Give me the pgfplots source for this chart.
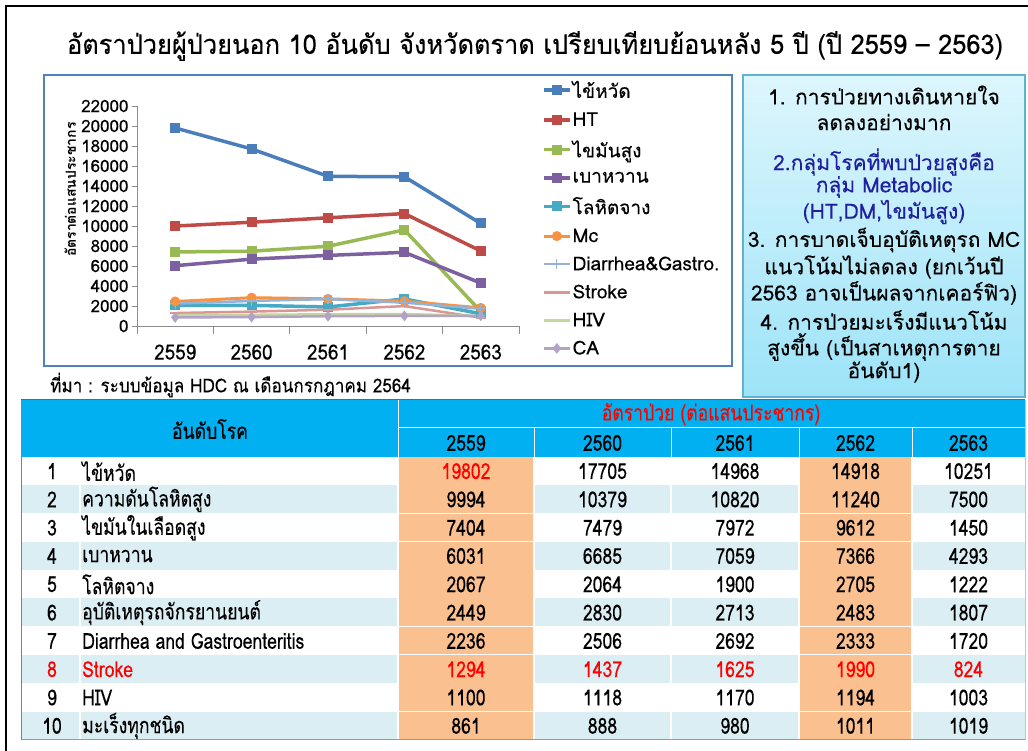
\documentclass[border=0pt]{standalone}
\usepackage{pgfplots}
\pgfplotsset{compat=1.18}
\usepackage{fontspec}
\setmainfont[Script=Thai, FakeBold=0.2, BoldFeatures={FakeBold=0}]{Loma}
\newfontfamily\tabfont[Script=Thai, FakeBold=0.2, FakeStretch=0.8]{Loma}
\newfontfamily\srcfont[Script=Thai, FakeBold=0.2, FakeStretch=0.9]{Loma}
\newcommand\fs[1]{\fontsize{#1}{#1}\selectfont}
\definecolor{cBlue}{HTML}{4A7EBB}
\definecolor{cRed}{HTML}{BE4B48}
\definecolor{cGreen}{HTML}{98B954}
\definecolor{cPurple}{HTML}{7D60A0}
\definecolor{cTeal}{HTML}{46AAC5}
\definecolor{cOrange}{HTML}{F69240}
\definecolor{cLBlue}{HTML}{95B3D7}
\definecolor{cPink}{HTML}{DA9694}
\definecolor{cLGreen}{HTML}{C3D69B}
\definecolor{cLav}{HTML}{B3A2C7}
\definecolor{hdr}{HTML}{00B0F0}
\definecolor{peach}{HTML}{FAC090}
\definecolor{rowb}{HTML}{DAEEF3}
\definecolor{boxblue}{HTML}{4F81BD}
\definecolor{txtblue}{HTML}{1F1F9F}
\definecolor{tbBorder}{HTML}{5FB3D0}
\definecolor{tbTop}{HTML}{DDF6FD}
\definecolor{tbBot}{HTML}{9DE3F8}
\begin{document}
\begin{tikzpicture}[x=1pt,y=1pt]
\useasboundingbox (0,0) rectangle (1028,751);
\fill[white] (0,0) rectangle (1028,751);
% slide frame
\draw[line width=2.5pt] (6,-2) -- (6,745) -- (1030,745);
% title
\node at (535,705) {\fs{27}\resizebox{936pt}{\height}{อัตราป่วยผู้ป่วยนอก 10 อันดับ จังหวัดตราด เปรียบเทียบย้อนหลัง 5 ปี (ปี 2559 – 2563)}};
% chart box
\draw[boxblue, line width=2pt, fill=white] (44,385) rectangle (732,676);
\begin{axis}[
  at={(137pt,425pt)}, anchor=south west,
  scale only axis, width=382pt, height=220pt,
  xmin=-0.5, xmax=4.5, ymin=0, ymax=22000,
  axis x line=bottom, axis y line=left,
  axis line style={-, black!45, line width=0.8pt},
  xtick={0,1,2,3,4}, xticklabels={2559,2560,2561,2562,2563},
  minor xtick={-0.5,0.5,1.5,2.5,3.5,4.5},
  ytick={0,2000,...,22000},
  scaled y ticks=false,
  tick align=outside,
  major tick length=5pt, minor tick length=8pt,
  major x tick style={draw=none},
  tick style={black!45, line width=0.8pt},
  yticklabel style={font=\fs{17}},
  xticklabel style={font=\srcfont\fs{21}, yshift=-10pt},
  /pgf/number format/1000 sep={},
  /pgf/number format/assume math mode=true,
  ylabel={อัตราต่อแสนประชากร},
  every axis y label/.style={at={(axis description cs:-0.175,0.62)}, rotate=90, anchor=center, font=\bfseries\fs{14}},
  legend style={at={(axis description cs:1.06,1.12)}, anchor=north west, draw=none, fill=none, font=\fs{19}, row sep=11pt, inner sep=0pt, nodes={inner sep=1pt}},
  legend cell align=left,
  legend image code/.code={\draw[mark repeat=2,mark phase=2,#1] plot coordinates {(0pt,0pt) (13pt,0pt) (26pt,0pt)};},
  clip=false,
]
\addplot[cBlue, line width=3.5pt, mark=square*, mark size=4.5pt, mark options={solid, line width=1pt}] coordinates {(0,19802)(1,17705)(2,14968)(3,14918)(4,10251)};
\addplot[cRed, line width=3.5pt, mark=square*, mark size=4.5pt, mark options={solid, line width=1pt}] coordinates {(0,9994)(1,10379)(2,10820)(3,11240)(4,7500)};
\addplot[cGreen, line width=3.5pt, mark=square*, mark size=4.5pt, mark options={solid, line width=1pt}] coordinates {(0,7404)(1,7479)(2,7972)(3,9612)(4,1450)};
\addplot[cPurple, line width=3.5pt, mark=square*, mark size=4.5pt, mark options={solid, line width=1pt}] coordinates {(0,6031)(1,6685)(2,7059)(3,7366)(4,4293)};
\addplot[cTeal, line width=3.5pt, mark=square*, mark size=4.5pt, mark options={solid, line width=1pt}] coordinates {(0,2067)(1,2064)(2,1900)(3,2705)(4,1222)};
\addplot[cOrange, line width=3pt, mark=*, mark size=4.5pt, mark options={solid, line width=1pt}] coordinates {(0,2449)(1,2830)(2,2713)(3,2483)(4,1807)};
\addplot[cLBlue, line width=2.5pt, mark=+, mark size=5pt, mark options={solid, line width=1.2pt}] coordinates {(0,2236)(1,2506)(2,2692)(3,2333)(4,1720)};
\addplot[cPink, line width=2.5pt, mark=-, mark size=5pt, mark options={solid, line width=2pt}] coordinates {(0,1294)(1,1437)(2,1625)(3,1990)(4,824)};
\addplot[cLGreen, line width=2.5pt, no marks] coordinates {(0,1100)(1,1118)(2,1170)(3,1194)(4,1003)};
\addplot[cLav, line width=2.5pt, mark=diamond*, mark size=5pt, mark options={solid, line width=0.5pt}] coordinates {(0,861)(1,888)(2,980)(3,1011)(4,1019)};
\legend{ไข้หวัด,HT,ไขมันสูง,เบาหวาน,โลหิตจาง,Mc,Diarrhea\&Gastro.,Stroke,HIV,CA}
\end{axis}
% text box
\draw[tbBorder, line width=1.5pt, top color=tbTop, bottom color=tbBot] (743,354) rectangle (1025,676);
\begin{scope}[every node/.style={font=\fs{21}, inner sep=0pt}]
\node at (884,656) {1. การป่วยทางเดินหายใจ};
\node at (884,629) {ลดลงอย่างมาก};
\node[txtblue] at (884,589) {2.กลุ่มโรคที่พบป่วยสูงคือ};
\node[txtblue] at (884,564) {กลุ่ม Metabolic};
\node[txtblue] at (884,539) {(HT,DM,ไขมันสูง)};
\node at (884,511) {3. การบาดเจ็บอุบัติเหตุรถ MC};
\node at (884,484) {แนวโน้มไม่ลดลง (ยกเว้นปี};
\node at (884,458) {2563 อาจเป็นผลจากเคอร์ฟิว)};
\node at (884,431) {4. การป่วยมะเร็งมีแนวโน้ม};
\node at (884,404) {สูงขึ้น (เป็นสาเหตุการตาย};
\node at (884,379) {อันดับ1)};
\end{scope}
% source
\node[anchor=west, font=\srcfont\fs{19}, inner sep=0pt] at (50,366) {ที่มา : ระบบข้อมูล HDC ณ เดือนกรกฎาคม 2564};
% table
\fill[hdr] (21,294) rectangle (1025,351);
\foreach \i in {1,...,10}{
  \pgfmathsetmacro\yt{294-(\i-1)*28.3}
  \pgfmathsetmacro\yb{294-\i*28.3}
  \ifodd\i \fill[white] (21,\yb) rectangle (1025,\yt); \else \fill[rowb] (21,\yb) rectangle (1025,\yt); \fi
  \fill[peach] (398,\yb) rectangle (534,\yt);
  \fill[peach] (799,\yb) rectangle (912,\yt);
  \draw[white, line width=1.2pt] (21,\yb) -- (1025,\yb);
}
\foreach \x in {80,398,534,671,799,912}{\draw[white, line width=1.2pt] (\x,11) -- (\x,294);}
\foreach \x in {398,534,671,799,912}{\draw[white, line width=1pt] (\x,294) -- (\x,323);}
\draw[white, line width=1pt] (398,351) -- (398,294);
\draw[white, line width=1pt] (398,323) -- (1025,323);
\draw[black!60, line width=1pt] (21,351) -- (1025,351);
\draw[black!40, line width=1pt] (21,11) -- (1025,11);
\draw[black!50, line width=0.8pt] (21,11) -- (21,294);
\draw[tbBorder!60, line width=1pt] (1025,11) -- (1025,351);
\begin{scope}[every node/.style={font=\tabfont\fs{22}, inner sep=0pt}]
\node at (210,322) {อันดับโรค};
\node[red] at (711,337) {อัตราป่วย (ต่อแสนประชากร)};
\foreach \yr/\cx in {2559/466,2560/602.5,2561/735,2562/855.5,2563/968.5}{\node at (\cx,308) {\yr};}
\foreach \n/\name/\a/\b/\c/\d/\e in {
 1/ไข้หวัด/19802/17705/14968/14918/10251,
 2/ความดันโลหิตสูง/9994/10379/10820/11240/7500,
 3/ไขมันในเลือดสูง/7404/7479/7972/9612/1450,
 4/เบาหวาน/6031/6685/7059/7366/4293,
 5/โลหิตจาง/2067/2064/1900/2705/1222,
 6/อุบัติเหตุรถจักรยานยนต์/2449/2830/2713/2483/1807,
 7/Diarrhea and Gastroenteritis/2236/2506/2692/2333/1720,
 8/Stroke/1294/1437/1625/1990/824,
 9/HIV/1100/1118/1170/1194/1003,
 10/มะเร็งทุกชนิด/861/888/980/1011/1019}{
  \pgfmathsetmacro\yc{294-(\n-0.5)*28.3}
  \ifnum\n=8 \def\tc{red}\else\def\tc{black}\fi
  \ifnum\n=1 \def\tca{red}\else\let\tca\tc\fi
  \node[\tc] at (52,\yc) {\n};
  \node[\tc, anchor=west] at (82,\yc) {\name};
  \node[\tca] at (466,\yc) {\a};
  \node[\tc] at (602.5,\yc) {\b};
  \node[\tc] at (735,\yc) {\c};
  \node[\tc] at (855.5,\yc) {\d};
  \node[\tc] at (968.5,\yc) {\e};
}
\end{scope}
\end{tikzpicture}
\end{document}
